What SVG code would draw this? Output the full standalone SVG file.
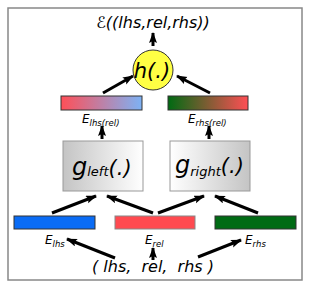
<svg xmlns="http://www.w3.org/2000/svg" width="310" height="289" viewBox="0 0 310 289">
<defs>
<marker id="ah" markerUnits="userSpaceOnUse" markerWidth="12" markerHeight="10" refX="10" refY="4" orient="auto">
<path d="M0,0 L11,4 L0,8 L2,4 Z" fill="#000"/>
</marker>
<linearGradient id="gL" x1="0" x2="1" y1="0" y2="0"><stop offset="0" stop-color="#ff4f57"/><stop offset="1" stop-color="#7db2f5"/></linearGradient>
<linearGradient id="gR" x1="0" x2="1" y1="0" y2="0"><stop offset="0" stop-color="#006a12"/><stop offset="1" stop-color="#ff4f55"/></linearGradient>
<linearGradient id="boxL" x1="0" x2="1" y1="0" y2="0"><stop offset="0" stop-color="#c4c4c4"/><stop offset="1" stop-color="#ffffff"/></linearGradient>
<linearGradient id="boxR" x1="0" x2="1" y1="0" y2="0"><stop offset="0" stop-color="#ffffff"/><stop offset="1" stop-color="#c4c4c4"/></linearGradient>
</defs>
<style>
text{font-family:"DejaVu Sans",sans-serif;font-style:italic;fill:#000}
.bar{stroke:#333;stroke-width:1}
.box{stroke:#999;stroke-width:1}
.arr{stroke:#000;stroke-width:3;fill:none;marker-end:url(#ah)}
.lbl{font-size:12px}
.sub{font-size:8.5px}
</style>
<rect x="8" y="8" width="294" height="272" fill="#fff" stroke="#888" stroke-width="1.5"/>
<g id="title"><text x="153" y="28" text-anchor="middle" font-size="16">ℰ((lhs,rel,rhs))</text></g>
<g id="h"><circle cx="153" cy="70" r="20" fill="#ffff44" stroke="#333" stroke-width="1"/><text x="152" y="78" text-anchor="middle" font-size="21">h(.)</text></g>
<g id="Elhsrel"><rect class="bar" x="61" y="96" width="81" height="14" fill="url(#gL)"/><text x="82" y="123" class="lbl">E<tspan class="sub" dy="3">lhs(rel)</tspan></text></g>
<g id="Erhsrel"><rect class="bar" x="168" y="96" width="80" height="14" fill="url(#gR)"/><text x="188" y="123" class="lbl">E<tspan class="sub" dy="3">rhs(rel)</tspan></text></g>
<g id="gleft"><rect class="box" x="63" y="141" width="80" height="50" fill="url(#boxL)"/><text x="72" y="175" font-size="24">g<tspan font-size="13" dy="1">left</tspan><tspan font-size="21" dy="-1">(.)</tspan></text></g>
<g id="gright"><rect class="box" x="170" y="141" width="80" height="50" fill="url(#boxR)"/><text x="175" y="173" font-size="24">g<tspan font-size="13" dy="3">right</tspan><tspan font-size="21" dy="-3">(.)</tspan></text></g>
<g id="Elhs"><rect class="bar" x="14" y="216" width="81" height="13" fill="#0a6cf5"/><text x="45" y="244" class="lbl">E<tspan class="sub" dy="3">lhs</tspan></text></g>
<g id="Erel"><rect x="115" y="216" width="80" height="13" fill="#ff4a50" stroke="#888" stroke-width="1"/><text x="145" y="244" class="lbl">E<tspan class="sub" dy="3">rel</tspan></text></g>
<g id="Erhs"><rect class="bar" x="215" y="216" width="81" height="13" fill="#006b14"/><text x="245" y="244" class="lbl">E<tspan class="sub" dy="3">rhs</tspan></text></g>
<g id="input"><text x="153" y="272" text-anchor="middle" font-size="16" xml:space="preserve">( lhs,  rel,  rhs )</text></g>
<g id="connectors">
<line class="arr" x1="153" y1="46" x2="153" y2="33"/>
<line class="arr" x1="103" y1="93" x2="133" y2="76"/>
<line class="arr" x1="210" y1="93" x2="177" y2="76"/>
<line class="arr" x1="102" y1="139" x2="102" y2="126"/>
<line class="arr" x1="209" y1="139" x2="209" y2="126"/>
<line class="arr" x1="52" y1="213" x2="96" y2="196"/>
<line class="arr" x1="153" y1="213" x2="107" y2="196"/>
<line class="arr" x1="158" y1="213" x2="204" y2="196"/>
<line class="arr" x1="258" y1="213" x2="215" y2="196"/>
<line class="arr" x1="115" y1="258" x2="67" y2="239"/>
<line class="arr" x1="153" y1="260" x2="153" y2="248"/>
<line class="arr" x1="198" y1="257" x2="241" y2="240"/>
</g>
</svg>
